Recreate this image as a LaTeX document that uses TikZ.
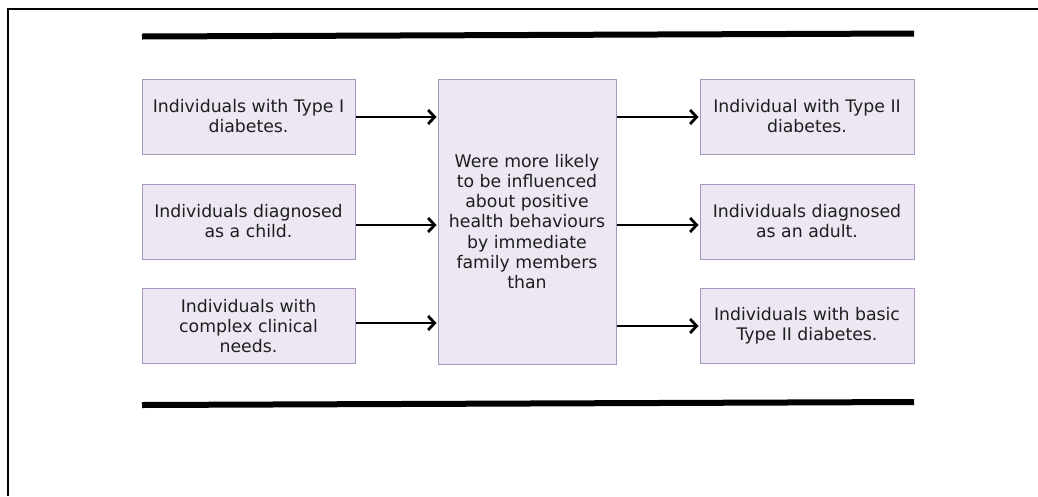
\documentclass[tikz,border=0pt]{standalone}
\usepackage{fontspec}
\setmainfont{DejaVu Sans}
\usetikzlibrary{arrows.meta}
\definecolor{boxfill}{RGB}{236,231,242}
\definecolor{boxline}{RGB}{170,152,192}
\definecolor{txt}{RGB}{30,30,30}
\tikzset{
  sidebox/.style={draw=boxline, fill=boxfill, line width=1pt, minimum width=213pt, minimum height=75pt, inner sep=0pt, align=center, font=\fontsize{17.3}{20}\selectfont, text=txt},
  centerbox/.style={draw=boxline, fill=boxfill, line width=1pt, minimum width=178pt, minimum height=285pt, inner sep=0pt, align=center, font=\fontsize{17.3}{20.3}\selectfont, text=txt},
  conn/.style={line width=2.8pt, -{Straight Barb[length=6.5pt,width=14pt,line width=2.8pt]}, shorten >=1pt},
  rule/.style={line width=6pt}
}
\begin{document}
\begin{tikzpicture}[x=1pt,y=-1pt]
\useasboundingbox (0,0) rectangle (1038,496);
% frame
\coordinate (fTL) at (8,9);
\coordinate (fTR) at (1038,9);
\coordinate (fBL) at (8,496);
\draw[line width=2pt] (fBL) -- (fTL) -- (fTR);
% rules
\coordinate (r1a) at (142,36.5);
\coordinate (r1b) at (914,33.5);
\coordinate (r2a) at (142,405);
\coordinate (r2b) at (914,402);
\draw[rule] (r1a) -- (r1b);
\draw[rule] (r2a) -- (r2b);
% left boxes
\node[sidebox] (l1) at (248.5,116.5) {Individuals with Type I\\diabetes.};
\node[sidebox] (l2) at (248.5,221.5) {Individuals diagnosed\\as a child.};
\node[sidebox] (l3) at (248.5,326) {Individuals with\\complex clinical\\needs.};
% center
\node[centerbox] (c) at (527,221.5) {Were more likely\\to be influenced\\about positive\\health behaviours\\by immediate\\family members\\than};
% right boxes
\node[sidebox, minimum width=214pt] (r1) at (807,116.5) {Individual with Type II\\diabetes.};
\node[sidebox, minimum width=214pt] (r2) at (807,221.5) {Individuals diagnosed\\as an adult.};
\node[sidebox, minimum width=214pt] (r3) at (807,326) {Individuals with basic\\Type II diabetes.};
% arrows
\draw[conn] (l1.east |- 0,117) -- (c.west |- 0,117);
\draw[conn] (l2.east |- 0,225) -- (c.west |- 0,225);
\draw[conn] (l3.east |- 0,323) -- (c.west |- 0,323);
\draw[conn] (c.east |- 0,117) -- (r1.west |- 0,117);
\draw[conn] (c.east |- 0,225) -- (r2.west |- 0,225);
\draw[conn] (c.east |- 0,326) -- (r3.west |- 0,326);
\end{tikzpicture}
\end{document}
